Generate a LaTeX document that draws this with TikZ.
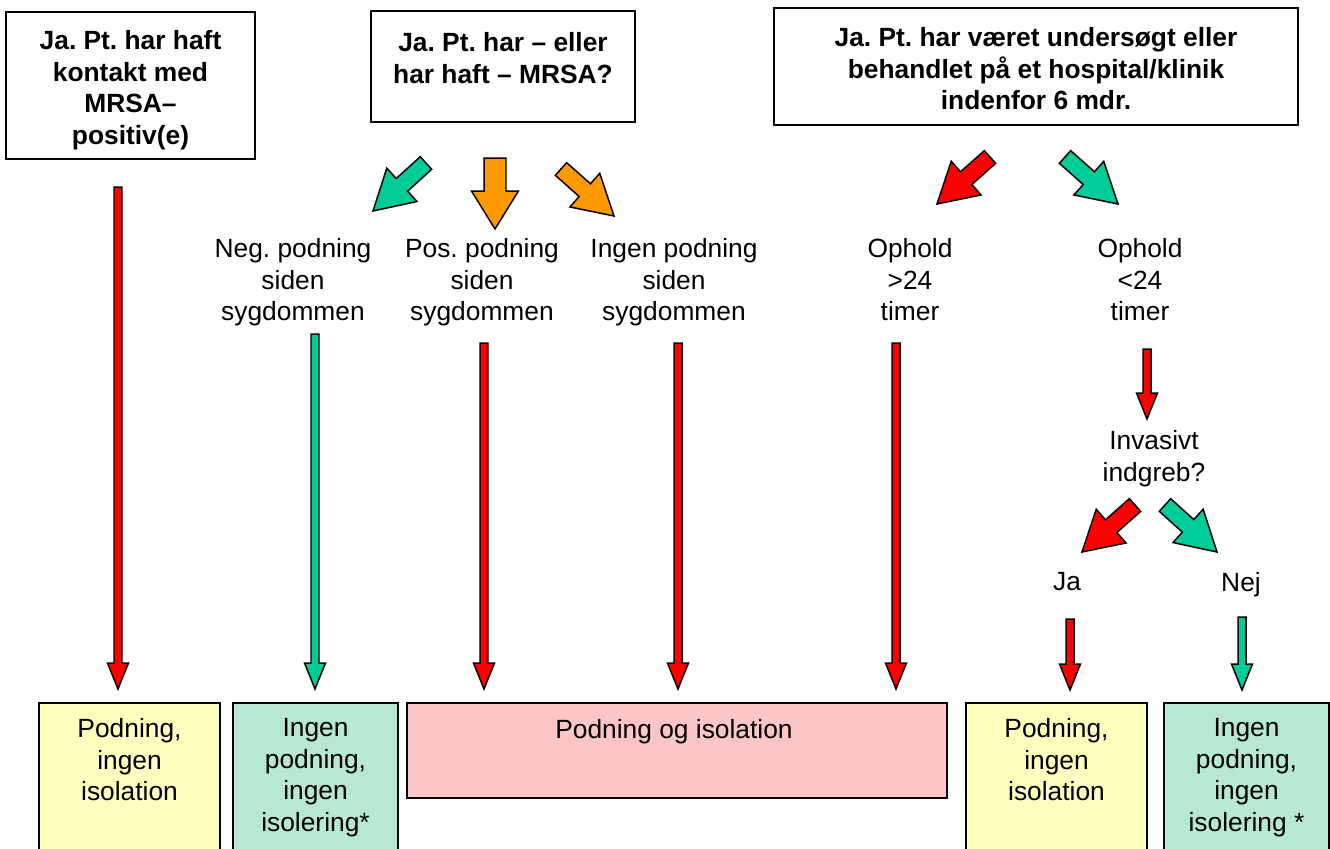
\documentclass[tikz,border=0pt]{standalone}
\usepackage{fontspec}
\setmainfont{Liberation Sans}
\frenchspacing
\usetikzlibrary{calc}
\definecolor{arrred}{RGB}{255,0,0}
\definecolor{arrgreen}{RGB}{0,204,153}
\definecolor{arrorange}{RGB}{255,153,0}
\definecolor{boxyellow}{RGB}{255,255,190}
\definecolor{boxgreen}{RGB}{182,232,211}
\definecolor{boxred}{RGB}{252,198,198}
\tikzset{
  blockarrow/.style n args={3}{draw=black, line width=0.85pt, line join=miter, to path={
    ($(\tikztostart)!#1!90:(\tikztotarget)$) --
    ($($(\tikztotarget)!#3!(\tikztostart)$)!#1!90:(\tikztotarget)$) --
    ($($(\tikztotarget)!#3!(\tikztostart)$)!#2!90:(\tikztotarget)$) --
    (\tikztotarget) --
    ($($(\tikztotarget)!#3!(\tikztostart)$)!#2!-90:(\tikztotarget)$) --
    ($($(\tikztotarget)!#3!(\tikztostart)$)!#1!-90:(\tikztotarget)$) --
    ($(\tikztostart)!#1!-90:(\tikztotarget)$) -- cycle}},
  thinarrow/.style={blockarrow={0.08cm}{0.21cm}{0.52cm}},
  fatarrow/.style={blockarrow={0.17cm}{0.45cm}{0.78cm}},
  downarrow/.style={blockarrow={0.22cm}{0.47cm}{0.76cm}},
  qbox/.style={draw=black, line width=1pt},
  qtext/.style={anchor=north, font=\fontsize{15}{18}\selectfont\bfseries},
  ltext/.style={anchor=north},
  outbox/.style={draw=black, line width=1pt, anchor=north}
}
\begin{document}
\begin{tikzpicture}[x=0.02cm,y=0.02cm]
\tikzstyle{every node}+=[inner sep=0pt, align=center, font=\fontsize{15}{18}\selectfont]
\useasboundingbox (0,0) rectangle (1330,-849);

\node [qbox, minimum width=4.98cm, minimum height=2.94cm] (kontakt) at (130.5,-85.5) {};
\node [qtext] (kontakttxt) at (130.5,-30) {Ja. Pt. har haft\\kontakt med\\MRSA–\\positiv(e)};
\node [qbox, minimum width=5.28cm, minimum height=2.22cm] (mrsa) at (503,-66.5) {};
\node [qtext] (mrsatxt) at (503,-32) {Ja. Pt. har – eller\\har haft – MRSA?};
\node [qbox, minimum width=10.48cm, minimum height=2.34cm] (hosp) at (1036,-66.5) {};
\node [qtext] (hosptxt) at (1036,-27) {Ja. Pt. har været undersøgt eller\\behandlet på et hospital/klinik\\indenfor 6 mdr.};

\node [ltext] (neg) at (293,-238) {Neg. podning\\siden\\sygdommen};
\node [ltext] (pos) at (482,-238) {Pos. podning\\siden\\sygdommen};
\node [ltext] (ingen) at (674,-238) {Ingen podning\\siden\\sygdommen};
\node [ltext] (over) at (910,-238) {Ophold\\>24\\timer};
\node [ltext] (under) at (1140,-238) {Ophold\\<24\\timer};
\node [ltext] (invasiv) at (1154,-430) {Invasivt\\indgreb?};
\node [ltext] (ja) at (1067,-572) {Ja};
\node [ltext] (nej) at (1241,-572) {Nej};

\node [outbox, fill=boxyellow, minimum width=3.62cm, minimum height=3.4cm] (res1) at (129.5,-702) {};
\node [ltext] (res1txt) at (129.5,-718) {Podning,\\ingen\\isolation};
\node [outbox, fill=boxgreen, minimum width=3.30cm, minimum height=3.4cm] (res2) at (315.5,-702) {};
\node [ltext] (res2txt) at (315.5,-718) {Ingen\\podning,\\ingen\\isolering*};
\node [outbox, fill=boxred, minimum width=10.8cm, minimum height=1.9cm] (res3) at (677,-702) {};
\node [ltext] (res3txt) at (674,-719) {Podning og isolation};
\node [outbox, fill=boxyellow, minimum width=3.62cm, minimum height=3.4cm] (res4) at (1056.5,-702) {};
\node [ltext] (res4txt) at (1056.5,-718) {Podning,\\ingen\\isolation};
\node [outbox, fill=boxgreen, minimum width=3.30cm, minimum height=3.4cm] (res5) at (1246.5,-702) {};
\node [ltext] (res5txt) at (1246.5,-718) {Ingen\\podning,\\ingen\\isolering *};

\coordinate (negA) at (426,-163);
\coordinate (negB) at (373,-211);
\coordinate (posA) at (495,-158);
\coordinate (posB) at (495,-229);
\coordinate (ingA) at (561,-169);
\coordinate (ingB) at (614,-216);
\coordinate (overA) at (990,-157);
\coordinate (overB) at (937,-204);
\coordinate (underA) at (1065,-157);
\coordinate (underB) at (1118,-204);
\coordinate (jaA) at (1135,-505);
\coordinate (jaB) at (1082,-552);
\coordinate (nejA) at (1165,-505);
\coordinate (nejB) at (1217,-552);
\draw [fill=arrgreen, fatarrow] (negA) to (negB);
\draw [fill=arrorange, downarrow] (posA) to (posB);
\draw [fill=arrorange, fatarrow] (ingA) to (ingB);
\draw [fill=arrred, fatarrow] (overA) to (overB);
\draw [fill=arrgreen, fatarrow] (underA) to (underB);
\draw [fill=arrred, fatarrow] (jaA) to (jaB);
\draw [fill=arrgreen, fatarrow] (nejA) to (nejB);

\coordinate (k1a) at (118,-187);
\coordinate (k1b) at (118,-689);
\coordinate (k2a) at (315,-334);
\coordinate (k2b) at (315,-689);
\coordinate (k3a) at (484,-343);
\coordinate (k3b) at (484,-689);
\coordinate (k4a) at (678,-343);
\coordinate (k4b) at (678,-689);
\coordinate (k5a) at (896,-343);
\coordinate (k5b) at (896,-689);
\coordinate (k6a) at (1147,-349);
\coordinate (k6b) at (1147,-419);
\coordinate (k7a) at (1070,-619);
\coordinate (k7b) at (1070,-690);
\coordinate (k8a) at (1242,-617);
\coordinate (k8b) at (1242,-690);
\draw [fill=arrred, thinarrow] (k1a) to (k1b);
\draw [fill=arrgreen, thinarrow] (k2a) to (k2b);
\draw [fill=arrred, thinarrow] (k3a) to (k3b);
\draw [fill=arrred, thinarrow] (k4a) to (k4b);
\draw [fill=arrred, thinarrow] (k5a) to (k5b);
\draw [fill=arrred, thinarrow] (k6a) to (k6b);
\draw [fill=arrred, thinarrow] (k7a) to (k7b);
\draw [fill=arrgreen, thinarrow] (k8a) to (k8b);
\end{tikzpicture}
\end{document}
